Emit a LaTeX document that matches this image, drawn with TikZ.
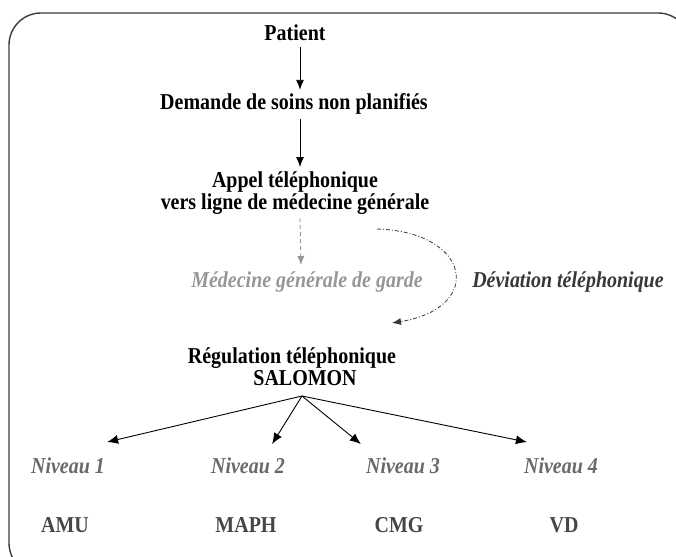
\documentclass[tikz,border=0pt]{standalone}
\usepackage{fontspec}
\setmainfont{Liberation Serif}[FakeStretch=0.88]
\usetikzlibrary{arrows.meta,calc}
\definecolor{framegray}{RGB}{60,60,60}
\definecolor{lightgray}{RGB}{150,150,150}
\definecolor{midgray}{RGB}{105,105,105}
\definecolor{darkgray}{RGB}{55,55,55}
\definecolor{codegray}{RGB}{70,70,70}
\begin{document}
\begin{tikzpicture}[x=1pt,y=-1pt,
  lbl/.style={font=\fontsize{22.7}{24}\selectfont\bfseries, inner sep=0pt, anchor=base, align=center},
  ilbl/.style={font=\fontsize{22.7}{24}\selectfont\bfseries\itshape, inner sep=0pt, anchor=base},
  arr/.style={-{Latex[length=10pt,width=8pt]}, line width=0.9pt, black},
  sarr/.style={-{Latex[length=11pt,width=9pt]}, line width=0.9pt, black}]
\useasboundingbox (0,0) rectangle (676,556);
\begin{scope}
\clip (0,0) rectangle (676,556);
\draw[framegray, line width=1.4pt, rounded corners=32pt] (9,13) rectangle (690,575);
\end{scope}

\node[lbl] (patient) at (295,41) {Patient};
\node[lbl] (demande) at (294,110) {Demande de soins non planifiés};
\node[lbl] (appel1) at (295,187) {Appel téléphonique};
\node[lbl] (appel2) at (295,209) {vers ligne de médecine générale};
\node[ilbl, text=lightgray] (mg) at (307,287) {Médecine générale de garde};
\node[ilbl, text=darkgray] (dev) at (568,287) {Déviation téléphonique};
\node[lbl] (regul) at (292,363) {Régulation téléphonique};
\node[lbl] (salomon) at (305,385) {SALOMON};

\node[ilbl, text=midgray] (n1) at (68,473) {Niveau 1};
\node[ilbl, text=midgray] (n2) at (248,473) {Niveau 2};
\node[ilbl, text=midgray] (n3) at (403,473) {Niveau 3};
\node[ilbl, text=midgray] (n4) at (561,473) {Niveau 4};

\node[lbl, text=codegray] (amu) at (65,532) {AMU};
\node[lbl, text=codegray] (maph) at (246,532) {MAPH};
\node[lbl, text=codegray] (cmg) at (399,532) {CMG};
\node[lbl, text=codegray] (vd) at (564,532) {VD};

% main vertical arrows
\draw[arr] ($(patient.south)+(5,6)$) -- ($(demande.north)+(6,-4)$);
\draw[arr] ($(demande.south)+(6,4)$) -- ($(appel1.north)+(5,-4)$);
\draw[-{Latex[length=9pt,width=7pt]}, line width=0.9pt, lightgray, dash pattern=on 4pt off 3pt]
  ($(appel2.south)+(5,4)$) -- ($(mg.north)+(-6,-6)$);

% deviation curve
\coordinate (devstart) at (377,229);
\coordinate (devend) at (392,323);
\draw[-{Latex[length=9pt,width=7pt]}, line width=0.8pt, darkgray, dash pattern=on 4pt off 2pt on 1pt off 2pt]
  (devstart) .. controls (472,232) and (484,308) .. (devend);

% SALOMON fan-out
\coordinate (apex) at (302,396);
\draw[sarr] (apex) -- ($(n1.north east)+(2,-15)$);
\draw[sarr] (apex) -- ($(n2.north east)+(-13,-13)$);
\draw[sarr] (apex) -- ($(n3.north west)+(-5,-13)$);
\draw[sarr] (apex) -- ($(n4.north west)+(3,-15)$);
\end{tikzpicture}
\end{document}
